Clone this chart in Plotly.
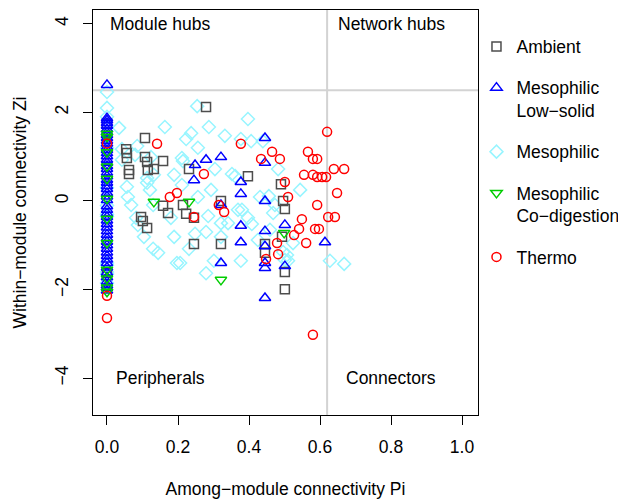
import plotly.graph_objects as go

# ---- data ----
amb_x = [0.0, 0.0, 0.279, 0.107, 0.054, 0.056, 0.056, 0.062, 0.062, 0.107, 0.113, 0.115, 0.132, 0.158,
         0.231, 0.397, 0.490, 0.496, 0.501, 0.158, 0.172, 0.214, 0.223, 0.245, 0.096, 0.101, 0.113,
         0.321, 0.245, 0.321, 0.445, 0.445, 0.493, 0.501, 0.501]
amb_y = [1.75, -1.62, 2.12, 1.42, 1.17, 1.08, 0.97, 0.70, 0.61, 0.99, 0.88, 0.70, 0.72, 0.90,
         0.72, 0.56, 0.38, 0.00, -0.18, -0.11, -0.27, -0.09, -0.29, -0.38, -0.36, -0.45, -0.61,
         0.00, -0.97, -0.97, -0.97, -1.17, -0.81, -1.60, -1.99]

low_col_y = [2.62, 1.87, 1.82, 1.76, 1.70, 1.62, 1.55, 1.49, 1.42, 1.36, 1.30, 1.22, 1.15, 1.08,
             1.01, 0.93, 0.86, 0.79, 0.72, 0.64, 0.56, 0.48, 0.41, 0.34, 0.27, 0.18, 0.10, 0.02,
             -0.12, -0.20, -0.28, -0.36, -0.44, -0.52, -0.60, -0.68, -0.76, -0.84, -0.92, -1.00,
             -1.08, -1.16, -1.24, -1.32, -1.40, -1.50, -1.62, -1.72, -1.82, -1.90, -1.96, -2.02]
low_x = [0.0] * len(low_col_y) + [0.445, 0.248, 0.279, 0.321, 0.245, 0.445, 0.377, 0.377, 0.321,
                                   0.445, 0.377, 0.377, 0.445, 0.445, 0.445, 0.445, 0.321, 0.445,
                                   0.501, 0.501, 0.614]
low_y = low_col_y + [1.42, 0.81, 0.93, 0.99, 0.47, 0.86, 0.43, 0.16, -0.09,
                     0.00, -0.56, -0.93, -0.68, -1.02, -1.40, -1.51, -1.40, -2.19,
                     -0.54, -1.47, -0.93]

meso_col_y = [2.46, 2.10, 1.90, 1.20, 0.30, -0.10, -0.30, -0.35, -1.40, -1.45, -1.60, -1.65, -1.85]
meso_x = [0.0] * len(meso_col_y) + [
    0.034, 0.163, 0.042, 0.085, 0.079, 0.042, 0.124, 0.211, 0.214, 0.189, 0.113, 0.121, 0.056,
    0.059, 0.068, 0.113, 0.132, 0.254, 0.287, 0.397, 0.237, 0.223, 0.332, 0.377, 0.406, 0.439,
    0.256, 0.304, 0.352, 0.361, 0.293, 0.256, 0.211, 0.130, 0.180, 0.082, 0.087, 0.104, 0.189,
    0.231, 0.279, 0.285, 0.321, 0.341, 0.321, 0.369, 0.380, 0.397, 0.408, 0.431, 0.456, 0.130,
    0.144, 0.197, 0.279, 0.301, 0.377, 0.425, 0.482, 0.544, 0.473, 0.468, 0.459, 0.496, 0.507,
    0.501, 0.510, 0.524, 0.628, 0.668, 0.248, 0.206]
meso_y = meso_col_y + [
    1.65, 1.67, 1.17, 1.24, 1.04, 0.93, 0.99, 0.97, 0.90, 0.59, 0.41, 0.25, 0.32,
    0.09, -0.09, 0.52, 0.59, 2.14, 1.67, 1.85, 1.53, 1.40, 1.47, 1.40, 1.35, 1.35,
    1.20, 0.72, 0.61, 0.56, 0.25, 0.09, 0.36, -0.09, -0.38, -0.38, -0.54, -0.81, -0.81,
    -1.08, -0.70, -0.34, -0.50, -0.50, -0.81, -0.20, -0.20, -0.38, -0.52, 0.09, 0.11, -1.08,
    -1.17, -1.40, -1.63, -1.35, -1.35, -0.88, 0.72, 0.25, -0.09, -0.27, -0.65, -1.15, -1.22,
    -1.33, -1.35, -0.95, -1.35, -1.42, -0.74, -1.40]

codig_col_y = [1.52, 1.45, 1.10, 0.78, 0.50, 0.05, -0.40, -0.95, -1.55, -1.75, -1.95, -2.05]
codig_x = [0.0] * len(codig_col_y) + [0.132, 0.231, 0.321, 0.499]
codig_y = codig_col_y + [-0.02, -0.02, -1.78, -0.72]

thermo_x = [0.0, 0.0, 0.0, 0.141, 0.177, 0.197, 0.245, 0.315, 0.330, 0.377, 0.434, 0.273, 0.465,
            0.487, 0.566, 0.580, 0.592, 0.620, 0.555, 0.580, 0.592, 0.606, 0.617, 0.639, 0.668,
            0.501, 0.510, 0.648, 0.592, 0.549, 0.623, 0.642, 0.541, 0.586, 0.597, 0.527, 0.561,
            0.479, 0.482, 0.448, 0.580]
thermo_y = [1.30, -2.14, -2.64, 1.29, 0.09, 0.18, -0.36, -0.09, -0.25, 1.29, 0.95, 0.61, 1.11,
            0.95, 1.11, 0.95, 0.95, 1.56, 0.59, 0.59, 0.54, 0.54, 0.54, 0.72, 0.72,
            0.43, 0.09, 0.18, -0.09, -0.41, -0.36, -0.36, -0.63, -0.63, -0.63, -0.77, -0.95,
            -0.95, -1.20, -1.31, -3.02]

x_ticks = [0.0, 0.2, 0.4, 0.6, 0.8, 1.0]
y_ticks = [-4, -2, 0, 2, 4]
zi_cut = 2.5
pi_cut = 0.62

FONT = "Liberation Sans, Arial, Helvetica, sans-serif"
FS = 17.5

fig = go.Figure()

series = [
    ("Mesophilic", meso_x, meso_y, "diamond-open", "#98F5FF", 10, 3),
    ("Ambient", amb_x, amb_y, "square-open", "#4D4D4D", 9, 1),
    ("Mesophilic<br>Low\u2212solid", low_x, low_y, "triangle-up-open", "#0000FF", 10, 2),
    ("Mesophilic<br>Co\u2212digestion", codig_x, codig_y, "triangle-down-open", "#00CD00", 10, 4),
    ("Thermo", thermo_x, thermo_y, "circle-open", "#FF0000", 9, 5),
]
for name, xs, ys, sym, col, sz, rank in series:
    fig.add_trace(go.Scatter(
        x=xs, y=ys, mode="markers", name=name, legendrank=rank,
        legendgroup=name,
        marker=dict(symbol=sym, size=sz, color=col, line=dict(color=col, width=1.5)),
    ))

fig.add_hline(y=zi_cut, line=dict(color="#D3D3D3", width=2), layer="below")
fig.add_vline(x=pi_cut, line=dict(color="#D3D3D3", width=2), layer="below")

labels = [("Module hubs", 0.15, 4), ("Network hubs", 0.8, 4),
          ("Peripherals", 0.15, -4), ("Connectors", 0.8, -4)]
for t, lx, ly in labels:
    fig.add_annotation(x=lx, y=ly, text=t, showarrow=False,
                       font=dict(family=FONT, size=FS, color="black"))

fig.update_layout(
    width=618, height=500,
    margin=dict(l=93, r=140, t=10, b=85, autoexpand=False),
    paper_bgcolor="white", plot_bgcolor="white",
    font=dict(family=FONT, size=FS, color="black"),
    showlegend=True,
    legend=dict(xref="container", yref="container", x=0.771, y=0.943,
                xanchor="left", yanchor="top",
                font=dict(family=FONT, size=FS), tracegroupgap=15.5,
                valign="top", bgcolor="rgba(0,0,0,0)", itemwidth=30),
)
fig.update_xaxes(
    range=[-0.0394, 1.045], tickvals=x_ticks, tickformat=".1f", automargin=False,
    showgrid=False, zeroline=False, showline=True, linecolor="black", linewidth=1,
    mirror=True, ticks="outside", ticklen=9, tickcolor="black",
    ticklabelstandoff=7,
    title=dict(text="Among\u2212module connectivity Pi", standoff=26,
               font=dict(family=FONT, size=FS)),
)
fig.update_yaxes(
    range=[-4.83, 4.31], tickvals=y_ticks, tickangle=-90, automargin=False,
    showgrid=False, zeroline=False, showline=True, linecolor="black", linewidth=1,
    mirror=True, ticks="outside", ticklen=9, tickcolor="black",
    ticklabelstandoff=8,
    title=dict(text="Within\u2212module connectivity Zi", standoff=20,
               font=dict(family=FONT, size=FS)),
)

fig.write_html("out.html")
